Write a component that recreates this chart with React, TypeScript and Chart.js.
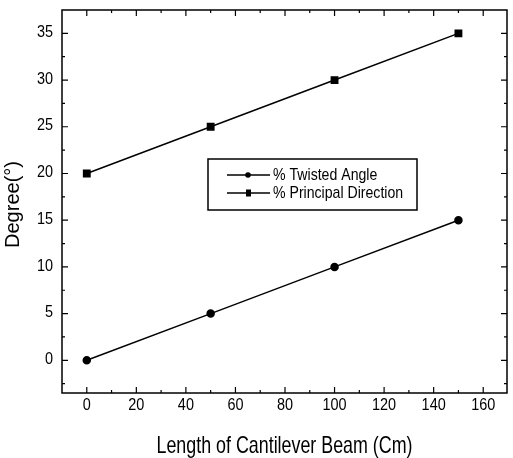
import React, { useEffect, useRef } from "react";
import { Chart, registerables } from "chart.js";

Chart.register(...registerables);

const lengths = [0, 50, 100, 150];
const twistedAngle = [0, 5, 10, 15];
const principalDirection = [20, 25, 30, 35];
const xTickValues = [0, 20, 40, 60, 80, 100, 120, 140, 160];
const yTickValues = [0, 5, 10, 15, 20, 25, 30, 35];
const seriesNames = ["% Twisted Angle", "% Principal Direction"];
const xTitle = "Length of Cantilever Beam (Cm)";
const yTitle = "Degree(°)";

const FONT = "'Liberation Sans', Arial, sans-serif";

function condensedText(ctx: any, text: string, x: number, y: number, size: number, sx: number, align: string) {
  ctx.save();
  ctx.font = `${size}px ${FONT}`;
  ctx.textBaseline = "middle";
  ctx.textAlign = align;
  ctx.translate(x, y);
  ctx.scale(sx, 1);
  ctx.fillText(text, 0, 0);
  ctx.restore();
}

const framePlugin = {
  id: "frameTicks",
  afterDraw(chart: any) {
    const { ctx, chartArea: a, scales } = chart;
    const xs = scales.x;
    const ys = scales.y;
    ctx.save();
    ctx.strokeStyle = "#000";
    ctx.fillStyle = "#000";
    ctx.lineWidth = 1.5;
    ctx.strokeRect(a.left, a.top, a.right - a.left, a.bottom - a.top);
    ctx.lineWidth = 1.2;
    const major = 6;
    const minor = 3;
    const xVals: [number, number][] = [];
    xTickValues.forEach((v, i) => {
      xVals.push([v, major]);
      if (i < xTickValues.length - 1) xVals.push([(v + xTickValues[i + 1]) / 2, minor]);
    });
    const yVals: [number, number][] = [];
    yTickValues.forEach((v, i) => {
      yVals.push([v, major]);
      if (i < yTickValues.length - 1) yVals.push([(v + yTickValues[i + 1]) / 2, minor]);
    });
    yVals.push([-2.5, minor]);
    ctx.beginPath();
    xVals.forEach(([v, len]) => {
      const px = xs.getPixelForValue(v);
      ctx.moveTo(px, a.bottom);
      ctx.lineTo(px, a.bottom - len);
      ctx.moveTo(px, a.top);
      ctx.lineTo(px, a.top + len);
    });
    yVals.forEach(([v, len]) => {
      const py = ys.getPixelForValue(v);
      ctx.moveTo(a.left, py);
      ctx.lineTo(a.left + len, py);
      ctx.moveTo(a.right, py);
      ctx.lineTo(a.right - len, py);
    });
    ctx.stroke();

    // tick labels
    xTickValues.forEach((v) => {
      condensedText(ctx, String(v), xs.getPixelForValue(v), a.bottom + 12, 17, 0.85, "center");
    });
    yTickValues.forEach((v) => {
      condensedText(ctx, String(v), a.left - 9, ys.getPixelForValue(v) - 1, 17, 0.85, "right");
    });

    // axis titles
    ctx.save();
    ctx.font = `24px ${FONT}`;
    const w = ctx.measureText(xTitle).width;
    ctx.restore();
    condensedText(ctx, xTitle, (a.left + a.right) / 2, a.bottom + 53, 24, 256 / w, "center");
    ctx.save();
    ctx.translate(13, (a.top + a.bottom) / 2 + 3);
    ctx.rotate(-Math.PI / 2);
    ctx.font = `20px ${FONT}`;
    ctx.textAlign = "center";
    ctx.textBaseline = "middle";
    ctx.fillText(yTitle, 0, 0);
    ctx.restore();

    // legend box inside the plot
    const bx = a.left + 146;
    const by = a.top + 149;
    const bw = 209;
    const bh = 51;
    ctx.fillStyle = "#fff";
    ctx.fillRect(bx, by, bw, bh);
    ctx.lineWidth = 1.5;
    ctx.strokeStyle = "#000";
    ctx.strokeRect(bx, by, bw, bh);
    chart.data.datasets.forEach((ds: any, i: number) => {
      const ly = by + 16 + i * 18;
      ctx.strokeStyle = "#000";
      ctx.lineWidth = 1.5;
      ctx.beginPath();
      ctx.moveTo(bx + 19, ly);
      ctx.lineTo(bx + 62, ly);
      ctx.stroke();
      ctx.fillStyle = "#000";
      if (ds.pointStyle === "rect") {
        ctx.fillRect(bx + 38, ly - 3.5, 5, 7);
      } else {
        ctx.beginPath();
        ctx.arc(bx + 40, ly, 2.8, 0, Math.PI * 2);
        ctx.fill();
      }
      condensedText(ctx, ds.label, bx + 65, ly, 17, 0.83, "left");
    });
    ctx.restore();
  },
};

export default function App() {
  const ref = useRef<HTMLCanvasElement | null>(null);
  useEffect(() => {
    document.body.style.margin = "0";
    const canvas = ref.current;
    if (!canvas) return;
    const chart = new Chart(canvas, {
      type: "line",
      data: {
        datasets: [
          {
            label: seriesNames[0],
            data: lengths.map((x, i) => ({ x, y: twistedAngle[i] })),
            borderColor: "#000",
            backgroundColor: "#000",
            borderWidth: 1.5,
            pointStyle: "circle",
            pointRadius: 3.5,
          },
          {
            label: seriesNames[1],
            data: lengths.map((x, i) => ({ x, y: principalDirection[i] })),
            borderColor: "#000",
            backgroundColor: "#000",
            borderWidth: 1.5,
            pointStyle: "rect",
            pointRadius: 4.5,
          },
        ],
      },
      options: {
        responsive: false,
        animation: false,
        layout: { padding: { top: 10, right: 2, left: 0, bottom: 0 } },
        plugins: { legend: { display: false }, tooltip: { enabled: false } },
        scales: {
          x: {
            type: "linear",
            min: -10,
            max: 169.6,
            afterBuildTicks: (s: any) => {
              s.ticks = xTickValues.map((v) => ({ value: v }));
            },
            afterFit: (s: any) => {
              s.height = 65;
              s.paddingLeft = 0;
              s.paddingRight = 0;
            },
            grid: { display: false, drawTicks: false },
            border: { display: false },
            ticks: { display: false },
          },
          y: {
            type: "linear",
            min: -3.5,
            max: 37.5,
            afterBuildTicks: (s: any) => {
              s.ticks = yTickValues.map((v) => ({ value: v }));
            },
            afterFit: (s: any) => {
              s.width = 62;
              s.paddingTop = 0;
              s.paddingBottom = 0;
            },
            grid: { display: false, drawTicks: false },
            border: { display: false },
            ticks: { display: false },
          },
        },
      },
      plugins: [framePlugin],
    } as any);
    return () => chart.destroy();
  }, []);
  return (
    <div style={{ width: 513, height: 458, background: "#fff" }}>
      <canvas ref={ref} width={513} height={458} />
    </div>
  );
}
